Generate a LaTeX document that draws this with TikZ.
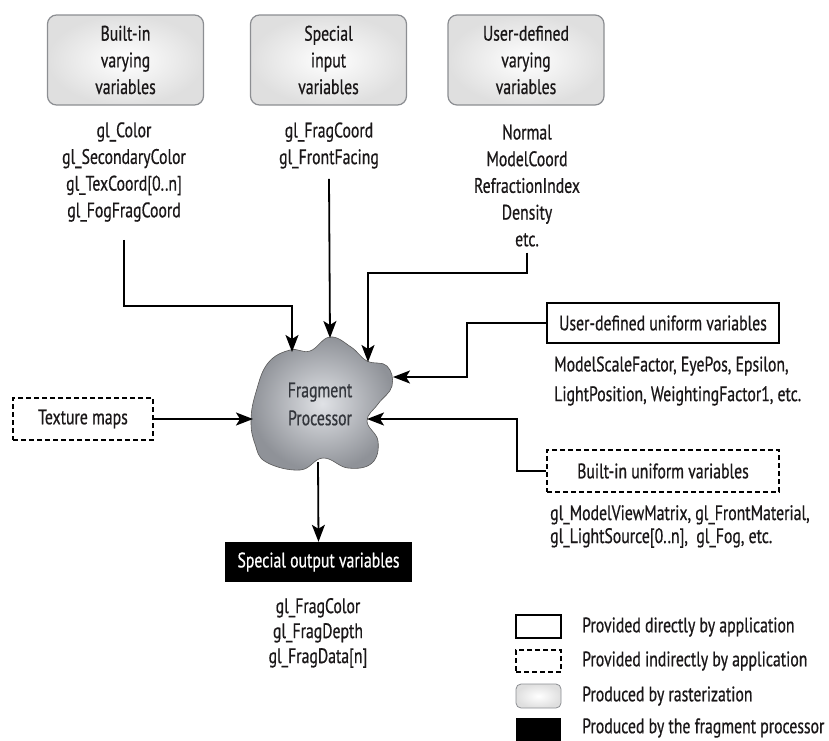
\documentclass[tikz,border=0pt]{standalone}
\usepackage{fontspec}
\setmainfont{PT Sans}[FakeStretch=0.75, FakeBold=0.6]
\usepackage{xcolor}
\definecolor{ink}{HTML}{1A1718}
\definecolor{rasteredge}{HTML}{8C8E92}
\definecolor{cloudin}{HTML}{E0E2E6}
\definecolor{cloudout}{HTML}{8F9298}
\definecolor{cloudtext}{HTML}{33363C}
\usetikzlibrary{arrows.meta,positioning,calc}

\begin{document}
\begin{tikzpicture}[x=1pt, y=-1pt,
  every node/.style={font=\fontsize{21}{26.7}\selectfont, text=ink},
  raster/.style={draw=rasteredge, line width=1.2pt, rounded corners=9pt, inner color=white, outer color=gray!25, minimum width=156pt, minimum height=90pt, align=center},
  solidbox/.style={draw=black, line width=1.8pt, fill=white, inner sep=0pt},
  dashbox/.style={draw=black, line width=1.8pt, dash pattern=on 5pt off 3pt, fill=white, inner sep=0pt},
  outbox/.style={fill=black, text=white, inner sep=0pt},
  varlist/.style={align=center, inner sep=0pt},
  flow/.style={draw=black, line width=1.8pt, -{Stealth[length=17pt,width=13pt,inset=4pt]}}]
\useasboundingbox (0,0) rectangle (829,740);
% varying inputs
\node[raster] (builtvar) at (125.5,60) {Built-in\\varying\\variables};
\node[raster] (specialin) at (328.5,60) {Special\\input\\variables};
\node[raster] (uservar) at (526,60) {User-defined\\varying\\variables};
\node[varlist] (builtlist) at (124,172) {gl\_Color\\gl\_SecondaryColor\\gl\_TexCoord[0..n]\\gl\_FogFragCoord};
\node[varlist] (speciallist) at (329,145.5) {gl\_FragCoord\\gl\_FrontFacing};
\node[varlist] (userlist) at (527,185.5) {Normal\\ModelCoord\\RefractionIndex\\Density\\etc.};
% uniforms and textures
\node[solidbox, minimum width=232pt, minimum height=40pt] (useruni) at (663,323) {User-defined uniform variables};
\node[varlist, anchor=west, align=left] (useruniList) at (554,381) {ModelScaleFactor, EyePos, Epsilon,\\[3pt]LightPosition, WeightingFactor1, etc.};
\node[dashbox, minimum width=232pt, minimum height=42pt] (builtuni) at (663,471) {Built-in uniform variables};
\node[varlist, anchor=west, align=left, font=\fontsize{21}{23}\selectfont] (builtuniList) at (550,526.5) {gl\_ModelViewMatrix, gl\_FrontMaterial,\\gl\_LightSource[0..n],\ \ gl\_Fog, etc.};
\node[dashbox, minimum width=140pt, minimum height=42pt] (texmaps) at (83,419) {Texture maps};
% fragment processor
\shade[inner color=cloudin, outer color=cloudout, draw=gray!70!black, line width=0.6pt]
  plot[smooth cycle, tension=0.7] coordinates {(251,420) (256,392) (268,363) (290,350) (310,351) (330,337)
  (351,347) (367,361) (387,366) (392,386) (378,404) (367,421) (378,441) (372,463) (348,468) (323,458)
  (300,470) (266,462) (255,444)};
\node[text=cloudtext, align=center, font=\fontsize{21}{28}\selectfont] (fproc) at (320,404) {Fragment\\Processor};
\coordinate (fp-n1) at (292,352);
\coordinate (fp-n2) at (330,338);
\coordinate (fp-n3) at (368,362);
\coordinate (fp-e1) at (393,377);
\coordinate (fp-e2) at (367,419);
\coordinate (fp-w) at (253,421);
\coordinate (fp-s) at (318,462);
\coordinate (bendA) at (292,306);
\coordinate (bendB) at (368,273);
\coordinate (bendC) at (467,377);
\coordinate (bendD) at (517,419);
% outputs
\node[outbox, minimum width=187pt, minimum height=40pt] (outvars) at (318.5,562) {Special output variables};
\node[varlist, font=\fontsize{21}{25}\selectfont] (outlist) at (318,633) {gl\_FragColor\\gl\_FragDepth\\gl\_FragData[n]};
% connectors
\draw[flow] ([yshift=-18pt]builtlist.south) |- (bendA) -- (fp-n1);
\draw[flow] ([yshift=-10pt]speciallist.south) -- (fp-n2);
\draw[flow] ([yshift=-6pt]userlist.south) |- (bendB) -- (fp-n3);
\draw[flow] (useruni.west) -| (bendC) -- (fp-e1);
\draw[flow] (builtuni.west) -| (bendD) -- (fp-e2);
\draw[flow] (texmaps.east) -- (fp-w |- texmaps.east);
\draw[flow] (fp-s) -- (outvars.north);
% legend
\node[solidbox, minimum width=45pt, minimum height=23pt] (keydirect) at (538.5,626.5) {};
\node[dashbox, minimum width=45pt, minimum height=22pt] (keyindirect) at (538.5,661) {};
\node[raster, minimum width=45pt, minimum height=24pt, rounded corners=5pt, line width=0.8pt] (keyraster) at (538.5,696) {};
\node[outbox, minimum width=45pt, minimum height=23pt] (keyfrag) at (538.5,729.5) {};
\node[anchor=west, inner sep=0pt] at (582,627) {Provided directly by application};
\node[anchor=west, inner sep=0pt] at (582,661) {Provided indirectly by application};
\node[anchor=west, inner sep=0pt] at (582,696) {Produced by rasterization};
\node[anchor=west, inner sep=0pt] at (582,728) {Produced by the fragment processor};
\end{tikzpicture}
\end{document}
